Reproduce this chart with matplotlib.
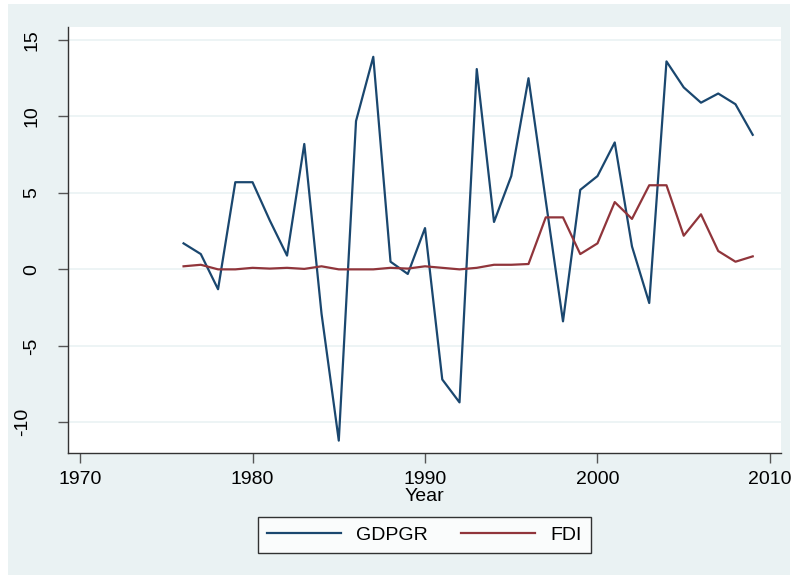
import matplotlib
matplotlib.use('Agg')
import matplotlib.pyplot as plt
from matplotlib.patches import Rectangle
import matplotlib.transforms as mtransforms

plt.rcParams['font.family'] = ['Liberation Sans', 'DejaVu Sans']
plt.rcParams['axes.unicode_minus'] = False

years = list(range(1976, 2010))
gdpgr = [1.7, 1.0, -1.3, 5.7, 5.7, 3.2, 0.9, 8.2, -2.9, -11.2,
         9.7, 13.9, 0.5, -0.3, 2.7, -7.2, -8.7, 13.1, 3.1, 6.1,
         12.5, 4.5, -3.4, 5.2, 6.1, 8.3, 1.5, -2.2, 13.6, 11.9,
         10.9, 11.5, 10.8, 8.8]
fdi = [0.2, 0.3, 0.0, 0.0, 0.1, 0.05, 0.1, 0.03, 0.2, 0.0,
       0.0, 0.0, 0.1, 0.05, 0.2, 0.1, 0.0, 0.1, 0.3, 0.3,
       0.35, 3.4, 3.4, 1.0, 1.7, 4.4, 3.3, 5.5, 5.5, 2.2,
       3.6, 1.2, 0.5, 0.85]
xticks = [1970, 1980, 1990, 2000, 2010]
yticks = [-10, -5, 0, 5, 10, 15]

W, H = 793, 579
bg = '#EAF2F3'
navy = '#1A476F'
maroon = '#90353B'

fig = plt.figure(figsize=(W / 100, H / 100), dpi=100)
fig.patch.set_facecolor('white')
fig.patches.append(Rectangle((8 / W, 4 / H), 782 / W, 571 / H, transform=fig.transFigure,
                             facecolor=bg, edgecolor='none', zorder=-10))

ax = fig.add_axes([68 / W, (H - 452.7) / H, (781 - 68) / W, (452.7 - 27) / H])
ax.set_facecolor('white')

ax.plot(years, gdpgr, color=navy, lw=1.6, label='GDPGR')
ax.plot(years, fdi, color=maroon, lw=1.6, label='FDI')

ax.set_xlim(1969.3, 2010.64)
ax.set_ylim(-11.99, 15.85)
ax.set_xticks(xticks)
ax.set_yticks(yticks)
ax.yaxis.grid(True, color=bg, lw=1.2)
ax.set_axisbelow(True)

for s in ['top', 'right']:
    ax.spines[s].set_visible(False)
for s in ['left', 'bottom']:
    ax.spines[s].set_color('#333333')
    ax.spines[s].set_linewidth(1.0)

ax.tick_params(axis='both', direction='out', length=7, width=1, color='#555555',
               labelsize=14, labelcolor='black')
ax.tick_params(axis='y', pad=13)
ax.tick_params(axis='x', pad=6)
for lab in ax.get_yticklabels():
    lab.set_rotation(90)
    lab.set_va('center')
    if lab.get_text() == '-10':
        lab.set_transform(lab.get_transform() +
                          mtransforms.ScaledTranslation(-9 / 100, 0, fig.dpi_scale_trans))

ax.set_xlabel('Year', fontsize=14, labelpad=0)

leg = fig.legend(loc='center', bbox_to_anchor=(424.5 / W, 1 - 535 / H), ncol=2,
                 fontsize=14, frameon=True, fancybox=False, handlelength=3.8,
                 handletextpad=0.8, columnspacing=1.7, borderpad=0.45)
leg.get_frame().set_edgecolor('black')
leg.get_frame().set_linewidth(1.0)
leg.get_frame().set_facecolor('white')

fig.savefig('out.png', dpi=100)
